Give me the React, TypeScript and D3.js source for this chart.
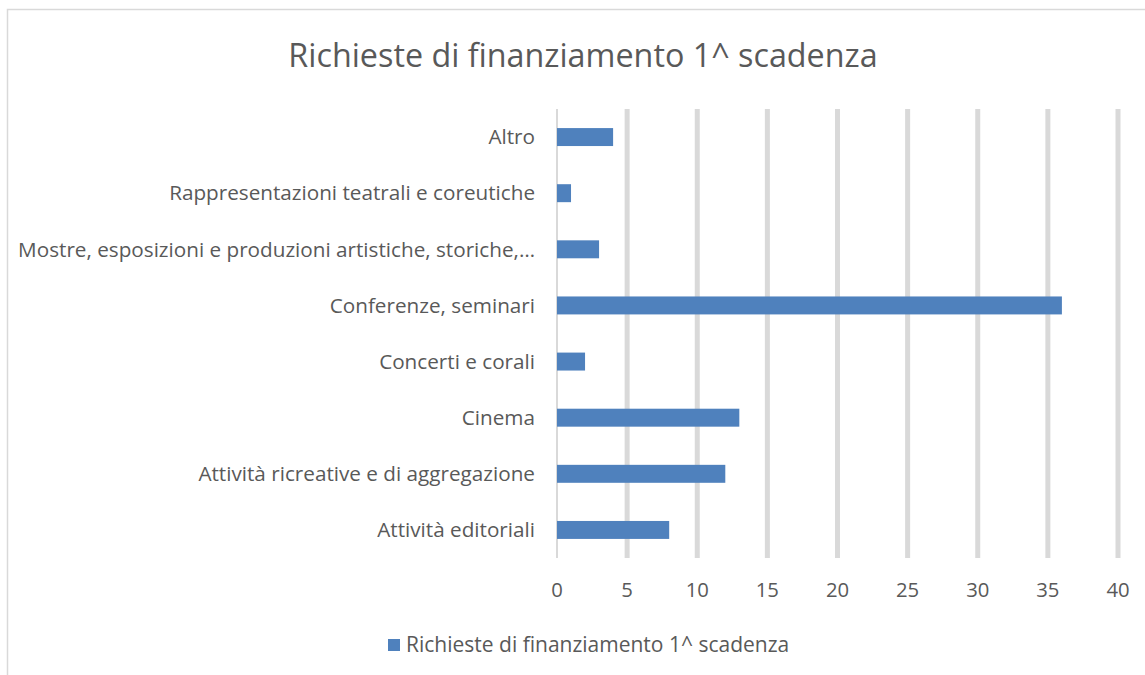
import { useEffect, useRef } from "react";
import * as d3 from "d3";

const title = "Richieste di finanziamento 1^ scadenza";
const seriesName = "Richieste di finanziamento 1^ scadenza";
const categories = [
  "Altro",
  "Rappresentazioni teatrali e coreutiche",
  "Mostre, esposizioni e produzioni artistiche, storiche,…",
  "Conferenze, seminari",
  "Concerti e corali",
  "Cinema",
  "Attività ricreative e di aggregazione",
  "Attività editoriali",
];
const values = [4, 1, 3, 36, 2, 13, 12, 8];
const xTicks = [0, 5, 10, 15, 20, 25, 30, 35, 40];

function App() {
  const ref = useRef<SVGSVGElement>(null);
  const width = 1145;
  const height = 675;
  const font = "'Open Sans', sans-serif";
  const textColor = "#595959";
  const barColor = "#4f81bd";

  useEffect(() => {
    const svg = d3.select(ref.current);
    svg.selectAll("*").remove();

    const x = d3.scaleLinear().domain([0, 40]).range([557, 1118]);
    const y = d3
      .scaleBand()
      .domain(categories)
      .range([109, 558])
      .paddingInner(0.68)
      .paddingOuter(0.34);

    // chart frame
    svg
      .append("rect")
      .attr("x", 7.5)
      .attr("y", 9.5)
      .attr("width", width + 10)
      .attr("height", height + 10)
      .attr("fill", "#fff")
      .attr("stroke", "#d9d9d9")
      .attr("stroke-width", 1.5);

    svg
      .append("text")
      .attr("x", 583)
      .attr("y", 67)
      .attr("text-anchor", "middle")
      .attr("font-family", font)
      .attr("font-size", 32.3)
      .attr("fill", textColor)
      .text(title);

    // gridlines
    svg
      .append("g")
      .selectAll("line")
      .data(xTicks)
      .join("line")
      .attr("x1", (d) => x(d))
      .attr("x2", (d) => x(d))
      .attr("y1", 109)
      .attr("y2", 558)
      .attr("stroke", "#d9d9d9")
      .attr("stroke-width", (d) => (d === 0 ? 2 : 5));

    // bars
    svg
      .append("g")
      .selectAll("rect")
      .data(values)
      .join("rect")
      .attr("x", x(0))
      .attr("y", (_, i) => y(categories[i])!)
      .attr("width", (d) => x(d) - x(0))
      .attr("height", y.bandwidth())
      .attr("fill", barColor);

    // category labels
    svg
      .append("g")
      .selectAll("text")
      .data(categories)
      .join("text")
      .attr("x", 535)
      .attr("y", (d) => y(d)! + y.bandwidth() / 2)
      .attr("dy", "0.35em")
      .attr("text-anchor", "end")
      .attr("font-family", font)
      .attr("font-size", 20.7)
      .attr("fill", textColor)
      .text((d) => d);

    // tick labels
    svg
      .append("g")
      .selectAll("text")
      .data(xTicks)
      .join("text")
      .attr("x", (d) => x(d))
      .attr("y", 590)
      .attr("dy", "0.35em")
      .attr("text-anchor", "middle")
      .attr("font-family", font)
      .attr("font-size", 20.3)
      .attr("fill", textColor)
      .text((d) => d);

    // legend
    const legend = svg.append("g");
    legend
      .append("rect")
      .attr("x", 388)
      .attr("y", 639)
      .attr("width", 12)
      .attr("height", 12)
      .attr("fill", barColor);
    legend
      .append("text")
      .attr("x", 406)
      .attr("y", 645)
      .attr("dy", "0.35em")
      .attr("font-family", font)
      .attr("font-size", 21)
      .attr("fill", textColor)
      .text(seriesName);
  }, []);

  return (
    <svg
      ref={ref}
      width={width}
      height={height}
      style={{ position: "absolute", left: 0, top: 0, display: "block" }}
    />
  );
}

export default App;
